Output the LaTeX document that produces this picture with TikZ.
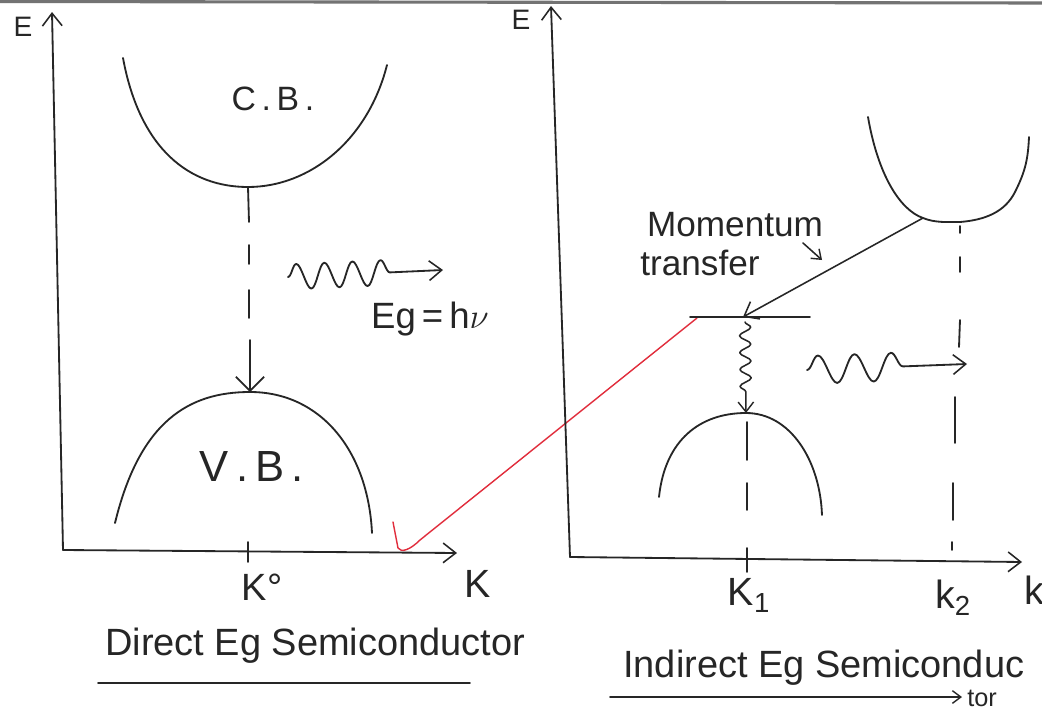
\documentclass[tikz,border=0pt]{standalone}
\usepackage{fontspec}
\setmainfont{Liberation Sans}
\usetikzlibrary{arrows.meta,decorations.pathmorphing}
\begin{document}
\begin{tikzpicture}[x=0.025cm,y=-0.025cm,
  ink/.style={draw=black!85, line width=1.3pt, line cap=round, line join=round},
  thin ink/.style={draw=black!85, line width=1.1pt, line cap=round, line join=round},
  barb/.style={-{Straight Barb[length=9pt,width=14pt,line width=1.1pt]}},
  smallbarb/.style={-{Straight Barb[length=6pt,width=9pt,line width=1pt]}},
  txt/.style={inner sep=0pt, text=black!85},
  redline/.style={draw={rgb,255:red,225;green,45;blue,60}, line width=1pt, line cap=round, line join=round}]
\useasboundingbox (0,0) rectangle (1042,717);
\fill[white] (0,0) rectangle (1042,717);
% scanned page edge at the top
\draw[draw=black!55, line width=2.2pt] (0,1.5) -- (1042,3);

% ================= LEFT PANEL: direct gap =================
\coordinate (O1) at (63,550);
\coordinate (E1top) at (52,12);
\coordinate (K1end) at (457,553);
\draw[ink, barb] (O1) -- (E1top);
\draw[ink, barb] (O1) -- (K1end);
\node[txt, font=\fontsize{20}{22}\selectfont] (Elabel1) at (23,27) {E};
\node[txt, font=\fontsize{28}{30}\selectfont] (Klabel1) at (478,584) {K};
% tick and K°
\coordinate (T0a) at (248,542);
\coordinate (T0b) at (248,562);
\draw[thin ink] (T0a) -- (T0b);
\node[txt, font=\fontsize{27}{29}\selectfont] (K0) at (262,587) {K°};

% conduction band
\coordinate (CBmin) at (248,187);
\draw[ink] (123,58) .. controls (140,150) and (190,187) .. (CBmin)
                    .. controls (310,187) and (368,140) .. (387,65);
\node[txt, font=\fontsize{24}{26}\selectfont] (CB) at (273,99) {C\,.\,B\,.};

% valence band
\coordinate (VBtop) at (250,392);
\draw[ink] (115,523) .. controls (140,420) and (190,392) .. (VBtop)
                     .. controls (320,392) and (368,450) .. (372,533);
\node[txt, font=\fontsize{31}{33}\selectfont] (VB) at (252,467) {V\,.\,B\,.};

% dashed transition CB -> VB
\draw[ink] (CBmin) -- (249,222);
\draw[ink] (249,245) -- (249,264);
\draw[ink] (249,290) -- (249,318);
\draw[ink, -{Straight Barb[length=10pt,width=20pt,line width=1.2pt]}] (250,340) -- (VBtop);

% photon
\coordinate (W1s) at (288,277);
\coordinate (W1e) at (443,270);
\draw[ink, barb, decorate, decoration={snake, amplitude=9pt, segment length=20pt, post length=30pt}] (W1s) -- (W1e);
\node[txt, font=\fontsize{26}{28}\selectfont, anchor=base] (Eg) at (430,328) {Eg\,=\,h$\nu$};

% label
\node[txt, font=\fontsize{27}{29}\selectfont, anchor=base west] (Tdirect) at (105,655) {Direct Eg Semiconductor};
\coordinate (U1a) at (98,683);
\coordinate (U1b) at (470,683);
\draw[thin ink] (U1a) -- (U1b);

% red check mark
\coordinate (R0) at (393,522);
\coordinate (R1) at (398,548);
\coordinate (R2) at (697,318);
\draw[redline] (R0) -- (R1) .. controls (401,553) and (410,550) .. (420,540) -- (R2);

% ================= RIGHT PANEL: indirect gap =================
\coordinate (O2) at (570,557);
\coordinate (E2top) at (551,6);
\coordinate (K2end) at (1022,562);
\draw[ink, barb] (O2) -- (E2top);
\draw[ink, barb] (O2) -- (K2end);
\node[txt, font=\fontsize{20}{22}\selectfont] (Elabel2) at (521,20) {E};
\node[txt, font=\fontsize{28}{30}\selectfont, anchor=base west] (Klabel2) at (1024,604) {k};

% conduction band (minimum at k2)
\coordinate (CB2min) at (960,222);
\coordinate (CB2start) at (923,218);
\draw[ink] (868,117) .. controls (878,175) and (900,210) .. (CB2start)
                     .. controls (935,223) and (948,222) .. (CB2min)
                     .. controls (985,220) and (1005,212) .. (1015,192)
                     .. controls (1025,172) and (1028,160) .. (1029,137);

% valence band (maximum at k1)
\coordinate (VB2top) at (746,413);
\draw[ink] (659,497) .. controls (665,440) and (700,413) .. (VB2top)
                     .. controls (790,413) and (820,460) .. (822,515);

% dashed verticals
\draw[ink] (960,226) -- (960,233);
\draw[ink] (960,257) -- (960,272);
\draw[ink] (960,320) -- (959,347);
\draw[ink] (955,397) -- (955,443);
\draw[ink] (953,483) -- (953,520);
\draw[ink] (952,542) -- (952,550);
\draw[ink] (747,422) -- (747,460);
\draw[ink] (747,483) -- (747,510);
\draw[thin ink] (747,548) -- (747,572);

% momentum transfer
\coordinate (Lvl) at (743,317);
\coordinate (LvlA) at (690,317);
\coordinate (LvlB) at (810,317);
\draw[thin ink] (LvlA) -- (LvlB);
\draw[thin ink, barb] (CB2start) -- (Lvl);
\node[txt, font=\fontsize{25}{27}\selectfont] (Mom) at (735,225) {Momentum};
\node[txt, font=\fontsize{25}{27}\selectfont] (Trans) at (700,263) {transfer};
\coordinate (Sa) at (803,243);
\coordinate (Sb) at (822,260);
\draw[thin ink, smallbarb] (Sa) -- (Sb);

% phonon squiggle down to VB
\coordinate (Q0) at (745,322);
\draw[thin ink, -{Straight Barb[length=7pt,width=11pt,line width=1pt]}, decorate, decoration={snake, amplitude=4pt, segment length=12pt, post length=14pt}] (Q0) -- (VB2top);

% photon
\coordinate (W2s) at (807,370);
\coordinate (W2e) at (967,364);
\draw[ink, barb, decorate, decoration={snake, amplitude=10pt, segment length=26pt, post length=40pt}] (W2s) -- (W2e);

% tick labels
\node[txt, font=\fontsize{28}{30}\selectfont] (K1lbl) at (749,595) {K\textsubscript{1}};
\node[txt, font=\fontsize{28}{30}\selectfont] (K2lbl) at (953,598) {k\textsubscript{2}};

% label
\node[txt, font=\fontsize{27}{29}\selectfont, anchor=base west] (Tindirect) at (623,677) {Indirect Eg Semiconduc};
\coordinate (U2a) at (610,697);
\coordinate (U2b) at (962,697);
\draw[thin ink, smallbarb] (U2a) -- (U2b);
\node[txt, font=\fontsize{18}{20}\selectfont, anchor=base west] (Ttor) at (967,706) {tor};
\end{tikzpicture}
\end{document}
